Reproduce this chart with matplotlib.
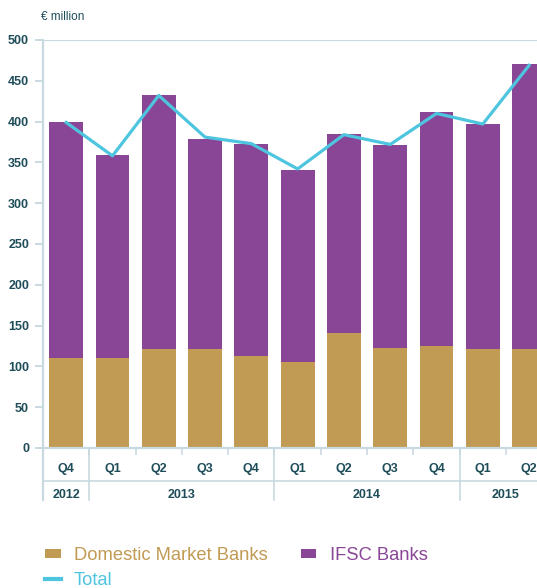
import matplotlib
matplotlib.use("Agg")
import matplotlib.pyplot as plt
import matplotlib.transforms as mtransforms
from matplotlib.patches import Patch
from matplotlib.lines import Line2D
import numpy as np

# quarterly values, € million
quarters = ["Q4", "Q1", "Q2", "Q3", "Q4", "Q1", "Q2", "Q3", "Q4", "Q1", "Q2"]
years = ["2012", "2013", "2014", "2015"]
year_sizes = [1, 4, 4, 2]
domestic = [110, 110, 121, 121, 113, 105, 141, 122, 125, 121, 121]
ifsc_top = [400, 359, 433, 379, 372, 341, 385, 371, 412, 397, 471]
total = [399, 358, 432, 381, 373, 342, 384, 372, 410, 397, 469]

ifsc = [t - d for t, d in zip(ifsc_top, domestic)]

GOLD = "#C19A53"
PURPLE = "#8A4696"
CYAN = "#4EC5DF"
AXIS = "#C9D9E0"
TEXT = "#1E4D59"
FONT = ["Liberation Sans", "DejaVu Sans"]

fig = plt.figure(figsize=(5.37, 5.88), dpi=100)
ax = fig.add_axes([43 / 537, 1 - 448 / 588, 1 - 43 / 537, 408 / 588])

x = np.arange(len(quarters))
ax.bar(x, domestic, width=0.73, color=GOLD, zorder=2)
ax.bar(x, ifsc, width=0.73, bottom=domestic, color=PURPLE, zorder=2)
ax.plot(x, total, color=CYAN, lw=2.3, zorder=3, solid_joinstyle="round")

ax.set_xlim(-0.5, 10.17)
ax.set_ylim(0, 500)
ax.set_yticks(np.arange(0, 501, 50))
ax.axhline(500, color=AXIS, lw=1.6, zorder=1)

for side in ("top", "right"):
    ax.spines[side].set_visible(False)
for side in ("left", "bottom"):
    ax.spines[side].set_color(AXIS)
    ax.spines[side].set_linewidth(1.6)
ax.spines["left"].set_bounds(0, 500)

ax.tick_params(axis="y", colors=AXIS, length=6, width=1.4, pad=4, labelcolor=TEXT)
for lab in ax.get_yticklabels():
    lab.set_family(FONT)
    lab.set_fontweight("bold")
    lab.set_fontsize(9)

# quarter labels with short ticks at the bar boundaries
ax.set_xticks(x)
ax.set_xticklabels(quarters, family=FONT, fontweight="bold", fontsize=9, color=TEXT)
ax.tick_params(axis="x", which="major", length=0, pad=11)
ax.set_xticks(np.arange(0.5, len(quarters) - 0.5), minor=True)
ax.tick_params(axis="x", which="minor", length=5, width=1.2, color=AXIS)

# year row underneath
trans = mtransforms.blended_transform_factory(ax.transData, ax.transAxes)
y_mid = -33 / 408
y_bot = -52 / 408
ax.plot([-0.5, 10.17], [y_mid, y_mid], transform=trans, color=AXIS, lw=1.2, clip_on=False)
ax.plot([-0.5, -0.5], [0, y_bot], transform=trans, color=AXIS, lw=1.6, clip_on=False)
start = -0.5
for yr, n in zip(years, year_sizes):
    end = start + n
    if end < len(quarters) - 0.5:
        ax.plot([end, end], [0, y_bot], transform=trans, color=AXIS, lw=1.2, clip_on=False)
    ax.text((start + end) / 2, -47 / 408, yr, transform=trans, ha="center", va="center",
            family=FONT, fontweight="bold", fontsize=9, color=TEXT)
    start = end

fig.text(41 / 537, 1 - 17 / 588, "€ million", family=FONT, fontsize=8.5,
         color=TEXT, va="center", ha="left")

handles = [
    Patch(facecolor=GOLD, label="Domestic Market Banks"),
    Line2D([0], [0], color=CYAN, lw=3, label="Total"),
    Patch(facecolor=PURPLE, label="IFSC Banks"),
]
fig.legend(handles=handles, ncol=2, loc="upper left", bbox_to_anchor=(38 / 537, 1 - 540 / 588),
           frameon=False, prop={"family": "Liberation Sans", "size": 13.2},
           labelcolor=[GOLD, CYAN, PURPLE], handlelength=0.85, handleheight=0.4,
           handletextpad=0.72, columnspacing=1.8, labelspacing=0.42, borderaxespad=0)

fig.savefig("out.png", dpi=100)
